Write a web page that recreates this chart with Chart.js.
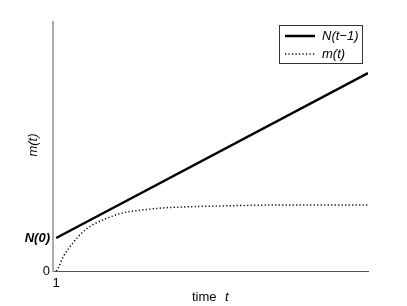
<!DOCTYPE html>
<html lang="en">
<head>
<meta charset="utf-8">
<title>m(t)</title>
<script src="https://cdn.jsdelivr.net/npm/chart.js@4/dist/chart.umd.min.js"></script>
<style>
  body { margin: 0; background: #fff; }
</style>
</head>
<body>
<canvas id="mycanvas" width="407" height="306"></canvas>
<script>
// values in axis units: x = time (0..100), y = m(t) normalised (0..1)
var n0 = 0.1325;
var lineX = [1, 100];
var lineY = [n0, 0.795];
var mX = [1, 1.6, 3.2, 6.3, 9.5, 12.6, 15.8, 22, 28.3, 34.6, 40.9, 52.5, 72, 100];
var mY = [0, 0.01, 0.056, 0.112, 0.157, 0.185, 0.205, 0.233, 0.245, 0.253, 0.257, 0.261, 0.265, 0.265];
var yTicks = [0, n0];
var yTickLabels = ['0', 'N(0)'];
var xTicks = [1];
var seriesNames = ['N(t\u22121)', 'm(t)'];

function toPoints(xs, ys) {
  var pts = [];
  for (var i = 0; i < xs.length; i++) pts.push({ x: xs[i], y: ys[i] });
  return pts;
}

var FONT = '"Liberation Sans", Arial, sans-serif';

// legend box + axis titles
var extras = {
  id: 'extras',
  afterDraw: function(chart) {
    var c = chart.ctx;
    c.save();
    // legend
    c.fillStyle = '#fff';
    c.fillRect(279.5, 25.5, 83, 38);
    c.strokeStyle = '#333';
    c.lineWidth = 1;
    c.strokeRect(279.5, 25.5, 83, 38);
    var ds = chart.data.datasets;
    var rows = [36, 54];
    for (var i = 0; i < ds.length; i++) {
      c.beginPath();
      c.setLineDash(ds[i].borderDash || []);
      c.lineWidth = ds[i].borderWidth;
      c.strokeStyle = ds[i].borderColor;
      c.moveTo(285, rows[i]);
      c.lineTo(315, rows[i]);
      c.stroke();
      c.setLineDash([]);
      c.fillStyle = '#000';
      c.font = 'italic 13px ' + FONT;
      c.textBaseline = 'middle';
      c.textAlign = 'left';
      c.fillText(seriesNames[i], 322, rows[i]);
    }
    // y title
    c.translate(33, 145);
    c.rotate(-Math.PI / 2);
    c.textAlign = 'center';
    c.textBaseline = 'middle';
    c.font = 'italic 13px ' + FONT;
    c.fillText('m(t)', 0, 0);
    c.restore();
    // x title
    c.save();
    c.fillStyle = '#000';
    c.textBaseline = 'middle';
    c.textAlign = 'left';
    c.font = '13px ' + FONT;
    c.fillText('time', 192, 297);
    c.font = 'italic 13px ' + FONT;
    c.fillText('t', 225, 297);
    c.restore();
  }
};

var ctx = document.getElementById('mycanvas');
var chart = new Chart(ctx, {
  type: 'line',
  data: {
    datasets: [
      {
        label: seriesNames[0],
        data: toPoints(lineX, lineY),
        borderColor: '#000',
        borderWidth: 2.5,
        pointRadius: 0,
        fill: false
      },
      {
        label: seriesNames[1],
        data: toPoints(mX, mY),
        borderColor: '#000',
        borderWidth: 1.5,
        borderDash: [1.2, 2.3],
        pointRadius: 0,
        cubicInterpolationMode: 'monotone',
        fill: false
      }
    ]
  },
  options: {
    responsive: false,
    animation: false,
    layout: { padding: { top: 22, right: 39, left: 0, bottom: 0 } },
    plugins: { legend: { display: false }, tooltip: { enabled: false } },
    scales: {
      x: {
        type: 'linear',
        min: 0,
        max: 100,
        grid: { display: false, drawTicks: false },
        border: { display: true, color: '#555', width: 1 },
        afterBuildTicks: function(s) { s.ticks = xTicks.map(function(v) { return { value: v }; }); },
        afterFit: function(s) { s.height = 35; },
        ticks: {
          color: '#000',
          padding: 5,
          font: { family: FONT, size: 13 },
          maxRotation: 0,
          callback: function(v) { return String(v); }
        }
      },
      y: {
        type: 'linear',
        min: 0,
        max: 1,
        grid: { display: false, drawTicks: false },
        border: { display: true, color: '#aaa', width: 2 },
        afterBuildTicks: function(s) { s.ticks = yTicks.map(function(v) { return { value: v }; }); },
        afterFit: function(s) { s.width = 53; },
        ticks: {
          color: '#000',
          padding: 3,
          font: function(c) {
            if (c.tick && c.tick.value === n0) return { family: FONT, size: 13, style: 'italic', weight: 'bold' };
            return { family: FONT, size: 13 };
          },
          callback: function(v) { var k = yTicks.indexOf(v); return k >= 0 ? yTickLabels[k] : ''; }
        }
      }
    }
  },
  plugins: [extras]
});
</script>
</body>
</html>
